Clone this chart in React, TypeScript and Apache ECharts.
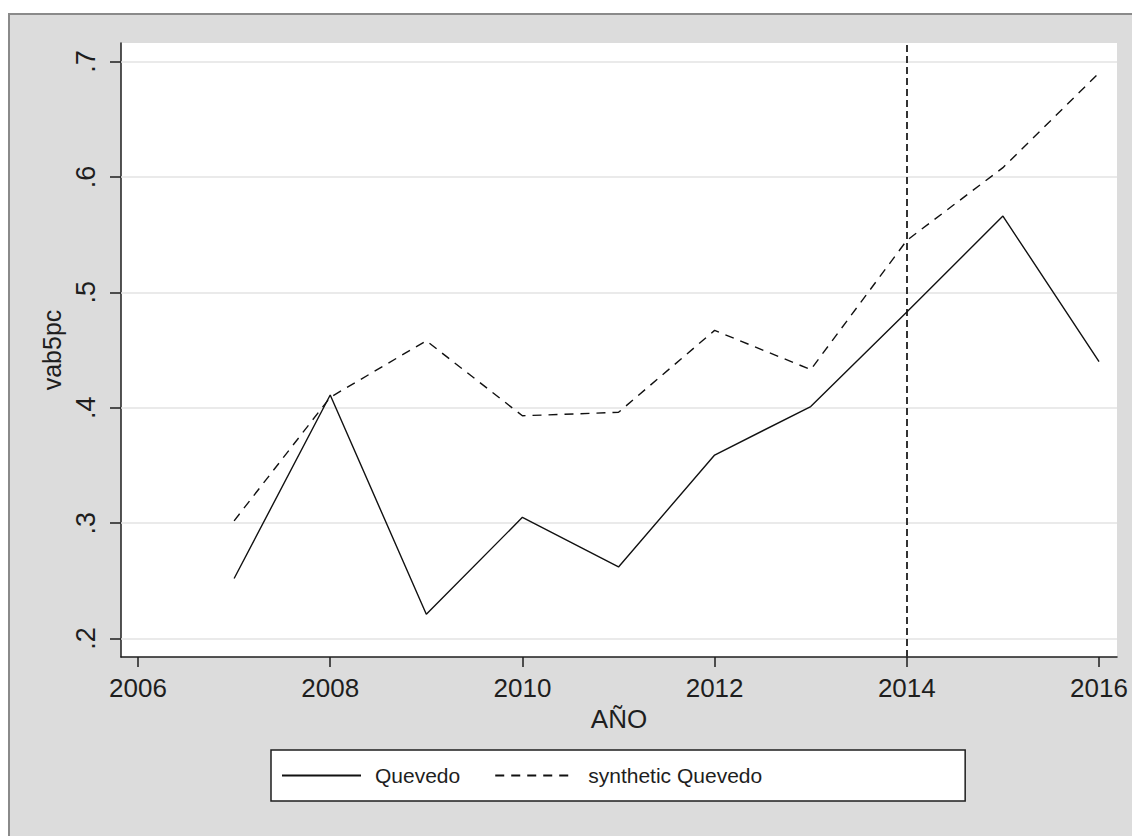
import React, { useEffect, useRef } from "react";
import * as echarts from "echarts";

// Yearly observations for the treated unit and its synthetic control
const years = [2007, 2008, 2009, 2010, 2011, 2012, 2013, 2014, 2015, 2016];
const quevedo = [0.252, 0.411, 0.221, 0.305, 0.262, 0.359, 0.401, 0.483, 0.566, 0.44];
const syntheticQuevedo = [0.302, 0.409, 0.458, 0.393, 0.396, 0.467, 0.433, 0.545, 0.608, 0.69];

// Axis ticks
const xTicks = [2006, 2008, 2010, 2012, 2014, 2016];
const yTicks = [0.2, 0.3, 0.4, 0.5, 0.6, 0.7];
const treatmentYear = 2014;

const FONT = "'Liberation Sans', Arial, Helvetica, sans-serif";
const INK = "#1e1e1e";

export default function App() {
  const ref = useRef<HTMLDivElement>(null);

  useEffect(() => {
    if (!ref.current) return;
    const chart = echarts.init(ref.current, undefined, { renderer: "svg" });

    const pairs = (vals: number[]) => years.map((y, i) => [y, vals[i]]);

    chart.setOption({
      animation: false,
      backgroundColor: "transparent",
      textStyle: { fontFamily: FONT },
      grid: {
        left: 121,
        top: 43,
        right: 15,
        bottom: 179,
        show: true,
        backgroundColor: "#ffffff",
        borderWidth: 0,
      },
      xAxis: {
        type: "value",
        min: 2005.823,
        max: 2016.187,
        name: "AÑO",
        nameLocation: "middle",
        nameGap: 46,
        nameTextStyle: { fontSize: 26, color: INK, fontFamily: FONT },
        axisLine: { show: true, onZero: false, lineStyle: { color: INK, width: 1.5 } },
        axisTick: {
          show: true,
          customValues: xTicks,
          length: 10,
          lineStyle: { color: INK, width: 1.5 },
        },
        axisLabel: {
          customValues: xTicks,
          fontSize: 26,
          color: INK,
          margin: 18,
          fontFamily: FONT,
          formatter: (v: number) => String(Math.round(v)),
        },
        splitLine: { show: false },
      },
      yAxis: {
        type: "value",
        min: 0.184,
        max: 0.716,
        name: "vab5pc",
        nameLocation: "middle",
        nameRotate: 90,
        nameGap: 52,
        nameTextStyle: { fontSize: 25, color: INK, fontFamily: FONT },
        axisLine: { show: true, onZero: false, lineStyle: { color: INK, width: 1.5 } },
        axisTick: {
          show: true,
          customValues: yTicks,
          length: 11,
          lineStyle: { color: INK, width: 1.5 },
        },
        axisLabel: {
          customValues: yTicks,
          rotate: 90,
          fontSize: 27,
          color: INK,
          margin: 22,
          fontFamily: FONT,
          formatter: (v: number) => v.toFixed(1).replace(/^0/, ""),
        },
        splitLine: { show: false },
      },
      legend: {
        data: ["Quevedo", "synthetic Quevedo"],
        left: 271,
        top: 750,
        orient: "horizontal",
        backgroundColor: "#ffffff",
        borderColor: INK,
        borderWidth: 1.5,
        borderRadius: 0,
        padding: [15, 203, 15, 10],
        itemWidth: 79,
        itemHeight: 2,
        itemGap: 34,
        itemStyle: { opacity: 0 },
        textStyle: { fontSize: 21, color: INK, fontFamily: FONT, padding: [0, 0, 0, 9] },
      },
      series: [
        {
          name: "gridlines",
          type: "line",
          data: [],
          silent: true,
          z: 1,
          markLine: {
            silent: true,
            symbol: "none",
            z: 1,
            label: { show: false },
            lineStyle: { color: "#e3e3e3", width: 1.5, type: "solid" },
            data: yTicks.map((v) => ({ yAxis: v })),
          },
        },
        {
          name: "Quevedo",
          type: "line",
          data: pairs(quevedo),
          symbol: "none",
          showSymbol: false,
          z: 3,
          lineStyle: { color: "#111111", width: 1.4, type: "solid" },
          itemStyle: { color: "#111111" },
        },
        {
          name: "synthetic Quevedo",
          type: "line",
          data: pairs(syntheticQuevedo),
          symbol: "none",
          showSymbol: false,
          z: 3,
          lineStyle: { color: "#111111", width: 1.4, type: [9, 7] },
          itemStyle: { color: "#111111" },
          markLine: {
            silent: true,
            symbol: "none",
            z: 2,
            label: { show: false },
            lineStyle: { color: "#333333", width: 2, type: [7, 4] },
            data: [{ xAxis: treatmentYear }],
          },
        },
      ],
    });

    return () => chart.dispose();
  }, []);

  return (
    <div
      style={{
        position: "absolute",
        left: 0,
        top: 0,
        width: 1132,
        height: 836,
        background: "#ffffff",
        overflow: "hidden",
      }}
    >
      <div
        style={{
          position: "absolute",
          left: 8,
          top: 13,
          width: 1140,
          height: 840,
          background: "#dcdcdc",
          borderLeft: "2px solid #8a8a8a",
          borderTop: "2px solid #8a8a8a",
          boxSizing: "border-box",
        }}
      />
      <div ref={ref} style={{ position: "absolute", left: 0, top: 0, width: 1132, height: 836 }} />
    </div>
  );
}
